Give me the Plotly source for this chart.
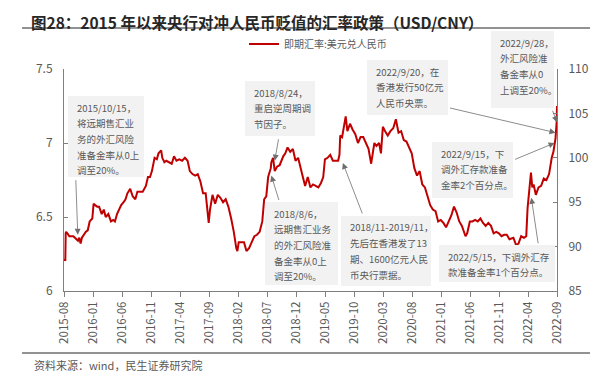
import plotly.graph_objects as go
import pandas as pd

# ---------------- data ----------------
dates = [
    "2015-08-03","2015-08-10","2015-08-12","2015-08-14","2015-08-21","2015-08-31","2015-09-10","2015-09-21",
    "2015-09-30","2015-10-09","2015-10-16","2015-10-23","2015-10-30","2015-11-06","2015-11-16","2015-11-27",
    "2015-12-07","2015-12-17","2015-12-31","2016-01-07","2016-01-15","2016-01-26","2016-02-05","2016-02-19",
    "2016-03-01","2016-03-11","2016-03-25","2016-04-08","2016-04-20","2016-04-29","2016-05-10","2016-05-20",
    "2016-06-01","2016-06-14","2016-06-24","2016-07-04","2016-07-19","2016-08-01","2016-08-15","2016-08-26",
    "2016-09-09","2016-09-23","2016-10-10","2016-10-21","2016-11-01","2016-11-11","2016-11-25","2016-12-07",
    "2016-12-16","2016-12-30","2017-01-05","2017-01-16","2017-01-26","2017-02-10","2017-02-24","2017-03-08",
    "2017-03-21","2017-04-05","2017-04-20","2017-05-05","2017-05-19","2017-05-31","2017-06-14","2017-06-28",
    "2017-07-12","2017-07-26","2017-08-09","2017-08-23","2017-09-01","2017-09-08","2017-09-15","2017-09-28",
    "2017-10-12","2017-10-26","2017-11-09","2017-11-23","2017-12-07","2017-12-21","2018-01-05","2018-01-19",
    "2018-02-01","2018-02-07","2018-02-14","2018-02-28","2018-03-14","2018-03-27","2018-04-10","2018-04-24",
    "2018-05-08","2018-05-22","2018-06-05","2018-06-19","2018-06-29","2018-07-10","2018-07-20","2018-08-03",
    "2018-08-06","2018-08-15","2018-08-24","2018-09-05","2018-09-19","2018-10-08","2018-10-19","2018-10-31",
    "2018-11-14","2018-11-28","2018-12-12","2018-12-26","2019-01-04","2019-01-18","2019-02-01","2019-02-15",
    "2019-03-01","2019-03-15","2019-03-29","2019-04-12","2019-04-26","2019-05-08","2019-05-17","2019-05-31",
    "2019-06-14","2019-06-28","2019-07-12","2019-07-26","2019-08-02","2019-08-06","2019-08-16","2019-08-30",
    "2019-09-04","2019-09-13","2019-09-27","2019-10-11","2019-10-25","2019-11-08","2019-11-22","2019-12-06",
    "2019-12-20","2020-01-03","2020-01-17","2020-02-03","2020-02-14","2020-02-28","2020-03-09","2020-03-19",
    "2020-03-31","2020-04-14","2020-04-28","2020-05-13","2020-05-27","2020-06-10","2020-06-24","2020-07-08",
    "2020-07-22","2020-08-05","2020-08-19","2020-09-02","2020-09-16","2020-09-30","2020-10-14","2020-10-28",
    "2020-11-11","2020-11-25","2020-12-09","2020-12-23","2021-01-06","2021-01-20","2021-02-03","2021-02-17",
    "2021-03-03","2021-03-17","2021-03-31","2021-04-14","2021-04-28","2021-05-12","2021-05-31","2021-06-09",
    "2021-06-23","2021-07-07","2021-07-21","2021-08-04","2021-08-18","2021-09-01","2021-09-15","2021-09-29",
    "2021-10-13","2021-10-27","2021-11-10","2021-11-24","2021-12-08","2021-12-22","2022-01-05","2022-01-19",
    "2022-02-09","2022-02-23","2022-03-08","2022-03-22","2022-04-06","2022-04-18","2022-04-25","2022-04-29",
    "2022-05-06","2022-05-13","2022-05-20","2022-05-27","2022-06-08","2022-06-22","2022-07-06","2022-07-20",
    "2022-08-03","2022-08-17","2022-08-31","2022-09-09","2022-09-15","2022-09-20","2022-09-26","2022-09-28",
]
usdcny = [
    6.21,6.21,6.39,6.40,6.39,6.37,6.37,6.37,
    6.36,6.35,6.34,6.36,6.32,6.36,6.38,6.40,
    6.41,6.47,6.49,6.59,6.58,6.57,6.57,6.52,
    6.55,6.50,6.52,6.47,6.48,6.47,6.52,6.55,
    6.58,6.60,6.62,6.66,6.69,6.64,6.62,6.67,
    6.67,6.67,6.71,6.77,6.77,6.81,6.90,6.89,
    6.93,6.95,6.90,6.87,6.88,6.87,6.86,6.91,
    6.88,6.89,6.88,6.90,6.88,6.81,6.79,6.78,
    6.79,6.74,6.66,6.66,6.56,6.46,6.55,6.65,
    6.59,6.65,6.63,6.60,6.62,6.57,6.49,6.40,
    6.29,6.27,6.33,6.33,6.33,6.27,6.29,6.33,
    6.37,6.38,6.40,6.47,6.62,6.64,6.77,6.83,
    6.87,6.90,6.81,6.84,6.85,6.91,6.93,6.97,
    6.94,6.96,6.88,6.90,6.86,6.78,6.71,6.77,
    6.70,6.72,6.71,6.70,6.73,6.77,6.89,6.90,
    6.92,6.88,6.88,6.88,6.92,7.05,7.04,7.15,
    7.18,7.08,7.13,7.09,7.06,7.00,7.04,7.04,
    7.00,6.96,6.86,7.00,6.98,7.00,6.93,7.11,
    7.08,7.05,7.08,7.10,7.16,7.07,7.08,7.02,
    7.01,6.97,6.93,6.83,6.78,6.81,6.72,6.70,
    6.63,6.58,6.55,6.54,6.47,6.48,6.46,6.43,
    6.47,6.51,6.57,6.53,6.47,6.44,6.37,6.39,
    6.47,6.47,6.48,6.47,6.49,6.46,6.44,6.46,
    6.44,6.39,6.40,6.39,6.37,6.38,6.38,6.35,
    6.36,6.31,6.32,6.37,6.36,6.37,6.56,6.61,
    6.68,6.80,6.70,6.72,6.65,6.70,6.71,6.76,
    6.75,6.79,6.90,6.94,6.99,7.03,7.14,7.25,
]
tick_labels = ["2015-08","2016-01","2016-06","2016-11","2017-04","2017-09","2018-02","2018-07",
               "2018-12","2019-05","2019-10","2020-03","2020-08","2021-01","2021-06","2021-11",
               "2022-04","2022-09"]
series_name = "即期汇率:美元兑人民币"

# annotation texts (box lines), arrow tips (date, value)
notes = [
    ["2015/10/15，", "将远期售汇业", "务的外汇风险", "准备金率从0上", "调至20%。"],
    ["2018/8/24，", "重启逆周期调", "节因子。"],
    ["2018/8/6，", "远期售汇业务", "的外汇风险准", "备金率从0上", "调至20%。"],
    ["2018/11-2019/11，", "先后在香港发了13", "期、1600亿元人民", "币央行票据。"],
    ["2022/9/20，在", "香港发行50亿元", "人民币央票。"],
    ["2022/9/28，", "外汇风险准", "备金率从0", "上调至20%。"],
    ["2022/9/15，下", "调外汇存款准备", "金率2个百分点。"],
    ["2022/5/15，下调外汇存", "款准备金率1个百分点。"],
]
tip_dates = ["2015-10-15", "2018-08-24", "2018-08-06", "2019-08-20",
             "2022-09-20", "2022-09-28", "2022-09-15", "2022-05-15"]
tip_values = [6.38, 6.88, 6.78, 6.865, 7.07, 7.14, 7.00, 6.63]

# ---------------- layout geometry (pixels) ----------------
W, H = 598, 372
L, R, T, B = 56, 549, 61, 283
boxes = [(60, 88, 136, 169), (237, 73, 307, 128), (257, 194, 330, 277), (333, 208, 423, 278),
         (359, 52, 440, 107), (483, 23, 546, 100), (424, 134, 505, 190), (431, 237, 547, 274)]
arrow_offsets = [(-2, -56), (4, -23), (8, 26), (20, 52), (-107, -25), (-5, -13), (-41, 17), (7, 47)]

def pxx(px):
    return (px - L) / (R - L)

def pyy(py):
    return (B - py) / (B - T)

GRAY = "#595959"
AXIS = "#7f7f7f"
FONT = "Noto Sans CJK SC"

fig = go.Figure()
fig.add_trace(go.Scatter(x=pd.to_datetime(dates), y=usdcny, mode="lines", name=series_name,
                         line=dict(color="#C00000", width=2), yaxis="y"))
fig.add_trace(go.Scatter(x=[pd.to_datetime(dates[0])], y=[None], mode="lines", yaxis="y2",
                         showlegend=False, hoverinfo="skip"))

start, end = pd.to_datetime(dates[0]), pd.to_datetime(dates[-1])
n = len(tick_labels)
tickvals = [start + (end - start) * i / (n - 1) for i in range(n)]

shapes = []
annotations = []
for (x0, y0, x1, y1), lines in zip(boxes, notes):
    shapes.append(dict(type="rect", xref="paper", yref="paper", x0=pxx(x0), x1=pxx(x1),
                       y0=pyy(y1), y1=pyy(y0), fillcolor="#F2F2F2", line=dict(width=0), layer="above"))
    for i, t in enumerate(lines):
        annotations.append(dict(xref="paper", yref="paper", x=pxx(x0 + 7), y=pyy(y0 + 11.5 + i * 15.7),
                                xanchor="left", yanchor="middle", text=t, showarrow=False,
                                font=dict(size=9.5, color=GRAY, family=FONT)))
for d, v, (ax, ay) in zip(tip_dates, tip_values, arrow_offsets):
    annotations.append(dict(x=d, y=v, xref="x", yref="y", ax=ax, ay=ay, text="", showarrow=True,
                            arrowhead=2, arrowsize=1.5, arrowwidth=0.8, arrowcolor="#6e6e6e"))

# title, source
annotations.append(dict(xref="paper", yref="paper", x=pxx(21), y=pyy(0.5), xanchor="left", yanchor="top",
                        text="<b>图28：2015 年以来央行对冲人民币贬值的汇率政策（USD/CNY）</b>", showarrow=False,
                        font=dict(size=15.5, color="#262626", family=FONT)))
annotations.append(dict(xref="paper", yref="paper", x=pxx(24), y=pyy(357), xanchor="left", yanchor="middle",
                        text="资料来源：wind，民生证券研究院", showarrow=False,
                        font=dict(size=11, color=GRAY, family=FONT)))
for yy in (20, 345):
    shapes.append(dict(type="line", xref="paper", yref="paper", x0=pxx(14), x1=pxx(587), y0=pyy(yy), y1=pyy(yy),
                       line=dict(color="#6e6e6e", width=1.5)))

fig.update_layout(
    width=W, height=H, margin=dict(l=L, r=W - R, t=T, b=H - B),
    paper_bgcolor="white", plot_bgcolor="white",
    font=dict(family=FONT, color=GRAY, size=12),
    showlegend=True,
    legend=dict(orientation="h", x=pxx(236), y=pyy(36), xanchor="left", yanchor="middle",
                font=dict(size=10, color=GRAY, family=FONT), bgcolor="rgba(0,0,0,0)"),
    xaxis=dict(type="date", range=[start, end], tickvals=tickvals, ticktext=tick_labels, tickangle=-90,
               showgrid=False, showline=True, linecolor=AXIS, linewidth=1, ticks="outside", ticklen=5,
               tickcolor=AXIS, tickfont=dict(size=11.5, color=GRAY), zeroline=False),
    yaxis=dict(range=[6, 7.5], dtick=0.5, showgrid=False, showline=True, linecolor=AXIS, linewidth=1,
               ticks="inside", ticklen=4, tickcolor=AXIS, tickfont=dict(size=12, color=GRAY),
               zeroline=False, ticklabelstandoff=8),
    yaxis2=dict(range=[85, 110], dtick=5, overlaying="y", side="right", showgrid=False, showline=True,
                linecolor=AXIS, linewidth=1, ticks="inside", ticklen=4, tickcolor=AXIS,
                tickfont=dict(size=12, color=GRAY), zeroline=False, ticklabelstandoff=8),
    shapes=shapes, annotations=annotations,
)
fig.write_html("out.html")
